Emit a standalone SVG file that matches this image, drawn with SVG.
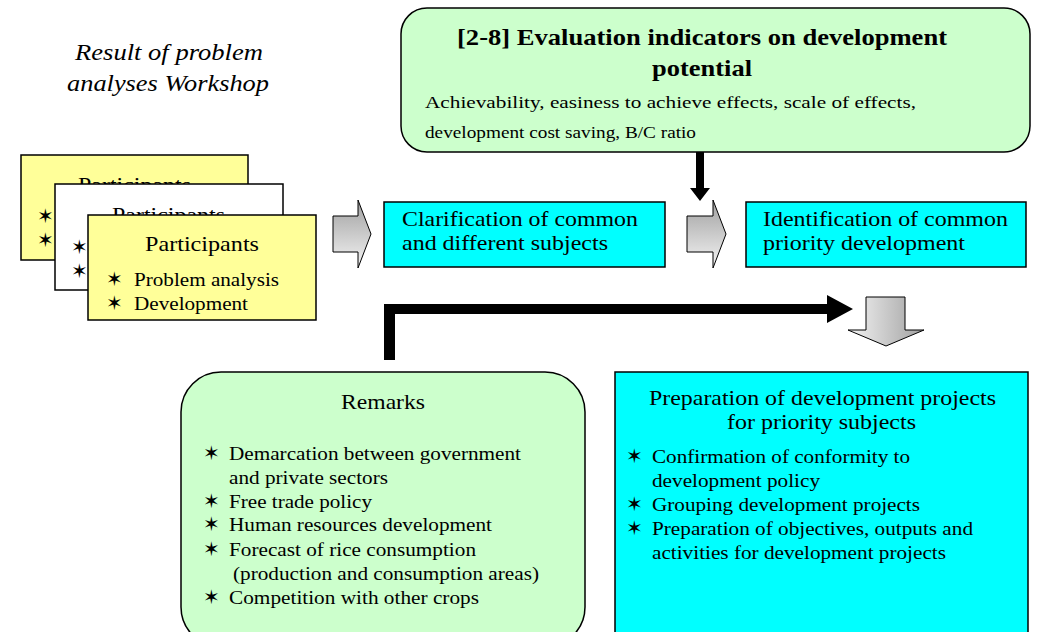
<svg xmlns="http://www.w3.org/2000/svg" width="1038" height="632" viewBox="0 0 1038 632" font-family="'Liberation Serif', 'DejaVu Serif Condensed', 'DejaVu Serif', serif">
<style>
.t20{font-size:21px}
.t18{font-size:18px}
.b{font-family:'DejaVu Sans',sans-serif;font-size:20px;font-weight:bold}
.yel{fill:#ffff99;stroke:#000;stroke-width:1.5}
.cy{fill:#00ffff;stroke:#000;stroke-width:1.5}
.gr{fill:#ccffcc;stroke:#000;stroke-width:1.5}
.ga{stroke:#000;stroke-width:1}
</style>
<defs>
<linearGradient id="gv" x1="0" y1="0" x2="0" y2="1"><stop offset="0" stop-color="#a0a0a0"/><stop offset="1" stop-color="#f4f4f4"/></linearGradient>
<linearGradient id="gh" x1="0" y1="0" x2="1" y2="0"><stop offset="0" stop-color="#f4f4f4"/><stop offset="1" stop-color="#a0a0a0"/></linearGradient>
</defs>
<rect width="1038" height="632" fill="#fff"/>
<g id="title">
<text x="75" y="60" font-style="italic" font-size="23" textLength="188" lengthAdjust="spacingAndGlyphs">Result of problem</text>
<text x="67" y="91" font-style="italic" font-size="23" textLength="202" lengthAdjust="spacingAndGlyphs">analyses Workshop</text>
</g>
<g id="card-back">
<rect class="yel" x="21" y="155" width="227" height="105"/>
<text class="t20" x="78" y="192" textLength="113" lengthAdjust="spacingAndGlyphs">Participants</text>
<text class="b" x="37" y="223">✶</text>
<text class="b" x="37" y="247">✶</text>
</g>
<g id="card-mid">
<rect x="55" y="184" width="228" height="106" fill="#fff" stroke="#000" stroke-width="1.5"/>
<text class="t20" x="112" y="222" textLength="113" lengthAdjust="spacingAndGlyphs">Participants</text>
<text class="b" x="71" y="254">✶</text>
<text class="b" x="71" y="278">✶</text>
</g>
<g id="card-front">
<rect class="yel" x="88" y="215" width="228" height="105"/>
<text class="t20" x="145" y="251" textLength="114" lengthAdjust="spacingAndGlyphs">Participants</text>
<text class="b" x="106" y="286">✶</text>
<text class="t18" x="134" y="286" textLength="145" lengthAdjust="spacingAndGlyphs">Problem analysis</text>
<text class="b" x="106" y="310">✶</text>
<text class="t18" x="134" y="310" textLength="114" lengthAdjust="spacingAndGlyphs">Development</text>
</g>
<g id="evaluation">
<rect class="gr" x="401" y="8" width="629" height="144" rx="26"/>
<text x="457" y="45" font-weight="bold" font-size="23" textLength="490" lengthAdjust="spacingAndGlyphs">[2-8] Evaluation indicators on development</text>
<text x="652" y="76" font-weight="bold" font-size="23" textLength="100" lengthAdjust="spacingAndGlyphs">potential</text>
<text x="425" y="108" font-size="17.5" textLength="491" lengthAdjust="spacingAndGlyphs">Achievability, easiness to achieve effects, scale of effects,</text>
<text x="425" y="138" font-size="17.5" textLength="271" lengthAdjust="spacingAndGlyphs">development cost saving, B/C ratio</text>
</g>
<g id="clarification">
<rect class="cy" x="384" y="202" width="281" height="65"/>
<text class="t20" x="402" y="226" textLength="236" lengthAdjust="spacingAndGlyphs">Clarification of common</text>
<text class="t20" x="402" y="250" textLength="206" lengthAdjust="spacingAndGlyphs">and different subjects</text>
</g>
<g id="identification">
<rect class="cy" x="746" y="202" width="280" height="65"/>
<text class="t20" x="763" y="226" textLength="245" lengthAdjust="spacingAndGlyphs">Identification of common</text>
<text class="t20" x="763" y="250" textLength="202" lengthAdjust="spacingAndGlyphs">priority development</text>
</g>
<g id="remarks">
<rect class="gr" x="181" y="372" width="404" height="275" rx="40"/>
<text class="t20" x="341" y="409" textLength="84" lengthAdjust="spacingAndGlyphs">Remarks</text>
<g class="t18">
<text class="b" x="203" y="460">✶</text><text x="229" y="460" textLength="292" lengthAdjust="spacingAndGlyphs">Demarcation between government</text>
<text x="229" y="484" textLength="159" lengthAdjust="spacingAndGlyphs">and private sectors</text>
<text class="b" x="203" y="508">✶</text><text x="229" y="508" textLength="143" lengthAdjust="spacingAndGlyphs">Free trade policy</text>
<text class="b" x="203" y="531">✶</text><text x="229" y="531" textLength="263" lengthAdjust="spacingAndGlyphs">Human resources development</text>
<text class="b" x="203" y="556">✶</text><text x="229" y="556" textLength="247" lengthAdjust="spacingAndGlyphs">Forecast of rice consumption</text>
<text x="233" y="580" textLength="306" lengthAdjust="spacingAndGlyphs">(production and consumption areas)</text>
<text class="b" x="203" y="604">✶</text><text x="229" y="604" textLength="250" lengthAdjust="spacingAndGlyphs">Competition with other crops</text>
</g>
</g>
<g id="preparation">
<rect class="cy" x="615" y="372" width="413" height="275"/>
<text class="t20" x="649" y="405" textLength="347" lengthAdjust="spacingAndGlyphs">Preparation of development projects</text>
<text class="t20" x="727" y="429" textLength="189" lengthAdjust="spacingAndGlyphs">for priority subjects</text>
<g class="t18">
<text class="b" x="626" y="463">✶</text><text x="652" y="463" textLength="258" lengthAdjust="spacingAndGlyphs">Confirmation of conformity to</text>
<text x="652" y="487" textLength="168" lengthAdjust="spacingAndGlyphs">development policy</text>
<text class="b" x="626" y="511">✶</text><text x="652" y="511" textLength="268" lengthAdjust="spacingAndGlyphs">Grouping development projects</text>
<text class="b" x="626" y="535">✶</text><text x="652" y="535" textLength="321" lengthAdjust="spacingAndGlyphs">Preparation of objectives, outputs and</text>
<text x="652" y="559" textLength="294" lengthAdjust="spacingAndGlyphs">activities for development projects</text>
</g>
</g>
<g id="connectors">
<path class="ga" fill="url(#gv)" d="M333,216 H358 V200 L371,234 L358,268 V252 H333 Z"/>
<path class="ga" fill="url(#gv)" d="M687,216 H713 V200 L726,234 L713,268 V252 H687 Z"/>
<path class="ga" fill="url(#gh)" d="M866,297 H905 V330 H924 L886,346 L848,330 H866 Z"/>
<path d="M696,152 H704 V188 H710 L700,201 L690,188 H696 Z" fill="#000"/>
<path d="M384,360 V304 H827 V295 L853,309 L827,323 V314 H395 V360 Z" fill="#000"/>
</g>
</svg>
